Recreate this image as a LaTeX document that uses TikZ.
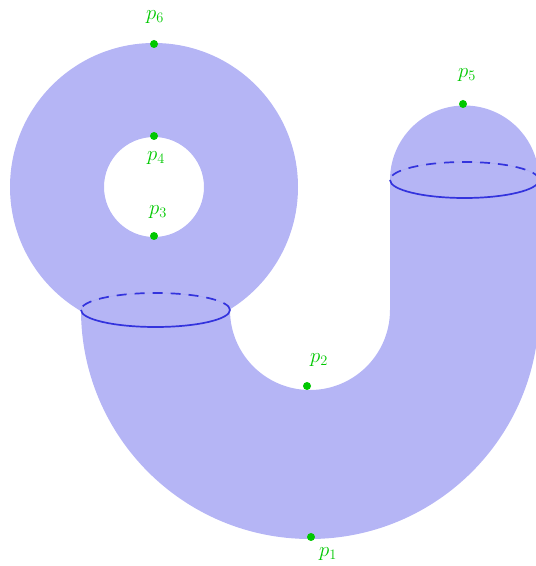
\documentclass[tikz,border=0pt]{standalone}
\usepackage{amsmath}
\usepackage{tikz}
\usepackage{xcolor}
\usetikzlibrary{positioning, calc}
\definecolor{SurfBlue}{HTML}{B5B5F5}
\definecolor{RimBlue}{HTML}{3333DD}
\definecolor{PtGreen}{HTML}{00C800}

\tikzset{
    surf/.style={fill=SurfBlue, draw=none},
    rimfront/.style={RimBlue, line width=1.7pt},
    rimback/.style={RimBlue, line width=1.7pt, dash pattern=on 10pt off 8pt},
    rimseam/.style={RimBlue!40, line width=0.5pt},
    ptdot/.style={circle, fill=PtGreen, inner sep=0pt, minimum size=8pt},
    ptlab/.style={text=PtGreen, font=\fontsize{21}{25}\selectfont}
}

\begin{document}
\begin{tikzpicture}[x=1pt, y=1pt]
    \useasboundingbox (0,0) rectangle (536,566);

    % === Ring (torus seen from above) ===
    \fill[surf, even odd rule] (154,379) circle (144) (154,379) circle (50);

    % === U-shaped tube with cap ===
    \fill[surf] (81,256) arc (180:360:229) -- (539,386)
        arc (0:180:74.5) -- (390,256) arc (360:180:80) -- cycle;

    % Rims: back half dashed, front half solid
    \draw[rimseam] (230,256) arc (0:180:74.5 and 17);
    \draw[rimback] (230,256) arc (0:180:74.5 and 17);
    \draw[rimfront] (81,256) arc (180:360:74.5 and 17);

    \draw[rimseam] (539,386) arc (0:180:74.5 and 18);
    \draw[rimback] (539,386) arc (0:180:74.5 and 18);
    \draw[rimfront] (390,386) arc (180:360:74.5 and 18);

    % === Points ===
    \node[ptdot] (p1) at (311,29) {};
    \node[ptdot] (p2) at (307,180) {};
    \node[ptdot] (p3) at (154,330) {};
    \node[ptdot] (p4) at (154,430) {};
    \node[ptdot] (p5) at (463,462) {};
    \node[ptdot] (p6) at (154,522) {};

    % Labels
    \node[ptlab] (l1) at (328,12) {$p_1$};
    \node[ptlab] (l2) at (319,206) {$p_2$};
    \node[ptlab] (l3) at (158,354) {$p_3$};
    \node[ptlab] (l4) at (156,408) {$p_4$};
    \node[ptlab] (l5) at (467,491) {$p_5$};
    \node[ptlab] (l6) at (155,549) {$p_6$};

\end{tikzpicture}
\end{document}
